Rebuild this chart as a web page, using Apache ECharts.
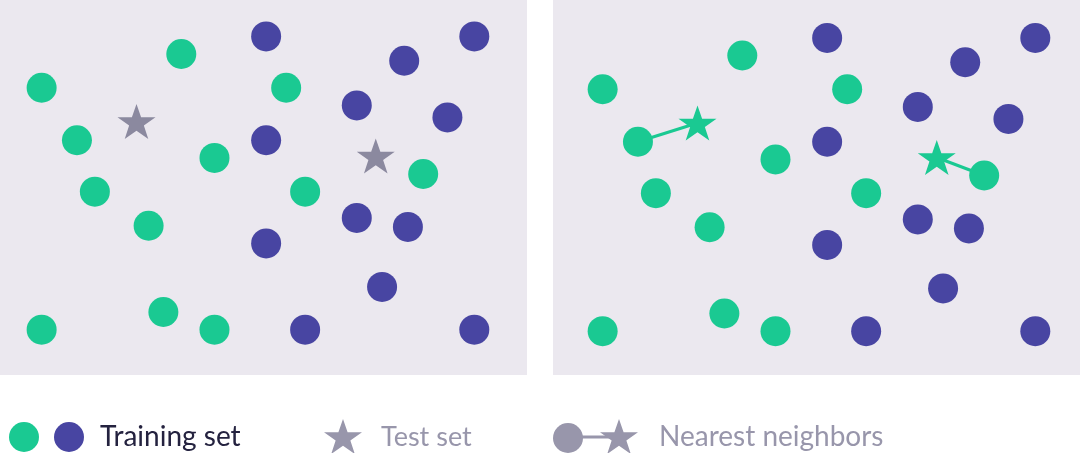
<!DOCTYPE html>
<html><head><meta charset="utf-8">
<script src="https://cdn.jsdelivr.net/npm/echarts@6/dist/echarts.min.js"></script>
<style>html,body{margin:0;padding:0;background:#fff}#c{width:1080px;height:453px}</style>
</head><body><div id="c"></div>
<script>
// Training set, class A (green) [feature1, feature2]
const trainGreen = [
  [7.9, 76.6], [34.4, 85.6], [14.6, 62.6], [18.0, 48.9], [28.2, 39.8], [40.7, 57.9],
  [54.3, 76.6], [57.9, 48.9], [80.3, 53.6], [7.9, 12.1], [31.0, 16.8], [40.7, 12.1]
];
// Training set, class B (blue)
const trainBlue = [
  [50.5, 90.3], [90.0, 90.3], [76.7, 83.8], [67.7, 71.9], [84.9, 68.7], [50.5, 62.6],
  [67.7, 41.9], [77.4, 39.5], [50.5, 35.1], [72.5, 23.5], [57.9, 12.1], [90.0, 12.1]
];
// Test set
const testPoints = [[25.9, 67.6], [71.3, 58.4]];
// Index (into trainGreen) of each test point's nearest neighbor
const nearestIdx = [2, 8];
const legendLabels = ['Training set', 'Test set', 'Nearest neighbors'];

const GREEN = '#1ac992', BLUE = '#4845a2', GREY = '#8b899f', LGREY = '#9896ab', BG = '#ebe8ef';
const STAR_RAW = [[50,0],[61.8,35.1],[98.8,35.1],[68.9,56.8],[80.3,92],[50,70.3],[19.7,92],[31.1,56.8],[1.2,35.1],[38.2,35.1]];
const STAR = 'path://M' + STAR_RAW.map(p => p.join(',')).join(' L') + ' Z';
function starPoly(cx, cy, w, h) {
  return STAR_RAW.map(p => [cx - w / 2 + (p[0] - 1.2) / 97.6 * w, cy - h / 2 + p[1] / 92 * h]);
}
const FONT = 'Lato';

const chart = echarts.init(document.getElementById('c'), null, {renderer: 'canvas'});

const series = [];
function scatter(grid, data, color, symbol, size, z) {
  return {type: 'scatter', xAxisIndex: grid, yAxisIndex: grid, data, symbol, symbolSize: size,
    itemStyle: {color, opacity: 1}, z, silent: true, emphasis: {disabled: true}};
}
// Left panel
series.push(scatter(0, trainGreen, GREEN, 'circle', 30, 3));
series.push(scatter(0, trainBlue, BLUE, 'circle', 30, 3));
series.push(scatter(0, testPoints, GREY, STAR, [38, 35], 4));
// Right panel: neighbor links
testPoints.forEach((p, i) => {
  series.push({type: 'line', xAxisIndex: 1, yAxisIndex: 1, data: [trainGreen[nearestIdx[i]], p],
    symbol: 'none', lineStyle: {color: GREEN, width: 3}, z: 2, silent: true, animation: false});
});
series.push(scatter(1, trainGreen, GREEN, 'circle', 30, 3));
series.push(scatter(1, trainBlue, BLUE, 'circle', 30, 3));
series.push(scatter(1, testPoints, GREEN, STAR, [38, 35], 4));

const option = {
  animation: false,
  grid: [
    {left: 0, top: 0, width: 527, height: 375, show: true, backgroundColor: BG, borderWidth: 0},
    {left: 553, top: 0, width: 527, height: 375, show: true, backgroundColor: BG, borderWidth: 0}
  ],
  xAxis: [
    {gridIndex: 0, type: 'value', min: 0, max: 100, show: false},
    {gridIndex: 1, type: 'value', min: -1.52, max: 98.48, show: false}
  ],
  yAxis: [
    {gridIndex: 0, type: 'value', min: 0, max: 100, show: false},
    {gridIndex: 1, type: 'value', min: 0.4, max: 100.4, show: false}
  ],
  series,
  graphic: {elements: [
    {type: 'circle', shape: {cx: 24, cy: 437, r: 15}, style: {fill: GREEN}},
    {type: 'circle', shape: {cx: 69, cy: 437, r: 15}, style: {fill: BLUE}},
    {type: 'text', x: 100, y: 437, style: {text: legendLabels[0], fill: '#24223f', font: '28px ' + FONT, verticalAlign: 'middle'}},
    {type: 'polygon', shape: {points: starPoly(343, 436.5, 38, 35)}, style: {fill: LGREY}},
    {type: 'text', x: 381, y: 437, style: {text: legendLabels[1], fill: LGREY, font: '27px ' + FONT, verticalAlign: 'middle'}},
    {type: 'line', shape: {x1: 575, y1: 437, x2: 612, y2: 437}, style: {stroke: LGREY, lineWidth: 3}},
    {type: 'circle', shape: {cx: 568, cy: 438, r: 15}, style: {fill: LGREY}},
    {type: 'polygon', shape: {points: starPoly(619, 436.5, 38, 35)}, style: {fill: LGREY}},
    {type: 'text', x: 659, y: 437, style: {text: legendLabels[2], fill: LGREY, font: '28px ' + FONT, verticalAlign: 'middle'}}
  ]}
};
chart.setOption(option);
</script>
</body></html>
